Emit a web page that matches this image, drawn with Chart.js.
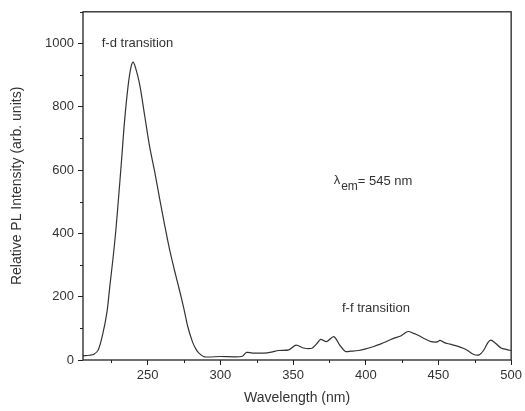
<!DOCTYPE html>
<html>
<head>
<meta charset="utf-8">
<script src="https://cdn.jsdelivr.net/npm/chart.js@4"></script>
<style>
  body { margin: 0; background: #fff; }
  #wrap { width: 525px; height: 411px; }
</style>
</head>
<body>
<div id="wrap"><canvas id="plChart" width="525" height="411"></canvas></div>
<script>
// excitation spectrum
const wavelength = [205.5, 210, 213, 216, 219, 222, 224, 226, 228, 230, 232, 234, 236.5, 238.5, 240, 241.5, 244.5, 248, 251.3, 254.8,
  258.2, 261.5, 265, 268.5, 272, 275, 277.6, 281, 283.5, 285.6, 289, 300, 310, 315, 318, 322, 330, 335, 340, 347,
  352, 357, 363, 366, 369, 373, 378, 382, 386, 390, 395, 400, 405, 410, 415, 420, 424, 429, 433, 436,
  440, 445, 449, 451, 454, 458, 463, 467, 470, 474, 478, 481, 484, 486, 489, 493, 497, 500];
const intensity = [13, 15, 18, 32, 80, 152, 235, 315, 405, 515, 630, 750, 865, 925, 941, 925, 870, 770, 675, 595,
  510, 430, 350, 282, 218, 160, 105, 55, 32, 20, 10, 11, 10, 12, 24, 22, 22, 25, 30, 32,
  47, 38, 37, 50, 65, 58, 74, 48, 27, 28, 30, 35, 42, 50, 60, 70, 76, 90, 84, 78,
  68, 58, 57, 62, 55, 50, 44, 37, 30, 18, 16, 30, 55, 63, 54, 38, 33, 30];
const xTicks = [250, 300, 350, 400, 450, 500];
const xMinor = [225, 275, 325, 375, 425, 475];
const yTicks = [0, 200, 400, 600, 800, 1000];
const yMinor = [100, 300, 500, 700, 900, 1100];

const textColor = '#333';
const font = 'Liberation Sans, Arial, sans-serif';

// frame, minor ticks and the text labels inside the plot
const extras = {
  id: 'extras',
  afterDraw(chart) {
    const { ctx, chartArea: a, scales: { x, y } } = chart;
    ctx.save();
    ctx.strokeStyle = '#222';
    ctx.lineWidth = 1.3;
    ctx.strokeRect(a.left, a.top, a.right - a.left, a.bottom - a.top);
    ctx.lineWidth = 1;
    ctx.beginPath();
    xMinor.forEach(v => {
      const px = Math.round(x.getPixelForValue(v)) + 0.5;
      ctx.moveTo(px, a.bottom); ctx.lineTo(px, a.bottom + 3);
    });
    yMinor.forEach(v => {
      const py = Math.round(y.getPixelForValue(v)) + 0.5;
      ctx.moveTo(a.left, py); ctx.lineTo(a.left - 3, py);
    });
    ctx.stroke();

    ctx.fillStyle = textColor;
    ctx.font = '13px ' + font;
    ctx.textBaseline = 'middle';
    ctx.textAlign = 'center';
    ctx.fillText('f-d transition', x.getPixelForValue(243), y.getPixelForValue(1000));
    ctx.fillText('f-f transition', x.getPixelForValue(407), y.getPixelForValue(164));

    ctx.textAlign = 'left';
    let px = x.getPixelForValue(380);
    const py = y.getPixelForValue(558);
    ctx.fillText('\u03bb', px - 3, py - 3);
    px += ctx.measureText('\u03bb').width - 2;
    ctx.font = '12px ' + font;
    ctx.fillText('em', px, py + 3);
    px += ctx.measureText('em').width;
    ctx.font = '13px ' + font;
    ctx.fillText('= 545 nm', px, py - 2);
    ctx.restore();
  }
};

new Chart(document.getElementById('plChart'), {
  type: 'line',
  data: {
    datasets: [{
      data: wavelength.map((w, i) => ({ x: w, y: intensity[i] })),
      borderColor: '#333',
      borderWidth: 1.2,
      pointRadius: 0,
      fill: false,
      tension: 0.3
    }]
  },
  options: {
    responsive: false,
    animation: false,
    layout: { padding: { left: 5, right: 13, top: 11, bottom: 0 } },
    plugins: { legend: { display: false }, tooltip: { enabled: false } },
    scales: {
      x: {
        type: 'linear',
        min: 205.5,
        max: 500,
        afterBuildTicks: s => { s.ticks = xTicks.map(v => ({ value: v })); },
        afterFit: s => { s.height = 51; },
        grid: { drawOnChartArea: false, drawTicks: true, tickLength: 5, tickColor: '#222' },
        border: { display: false },
        ticks: { color: textColor, font: { family: font, size: 13 }, padding: 3, maxRotation: 0, callback: v => String(v) },
        title: { display: true, text: 'Wavelength (nm)', color: textColor, font: { family: font, size: 14 }, padding: { top: 4 } }
      },
      y: {
        min: 0,
        max: 1100,
        afterBuildTicks: s => { s.ticks = yTicks.map(v => ({ value: v })); },
        afterFit: s => { s.width = 78; },
        grid: { drawOnChartArea: false, drawTicks: true, tickLength: 5, tickColor: '#222' },
        border: { display: false },
        ticks: { color: textColor, font: { family: font, size: 13 }, padding: 4, callback: v => String(v) },
        title: { display: true, text: 'Relative PL Intensity (arb. units)', color: textColor, font: { family: font, size: 14 }, padding: { bottom: 0 } }
      }
    }
  },
  plugins: [extras]
});
</script>
</body>
</html>
